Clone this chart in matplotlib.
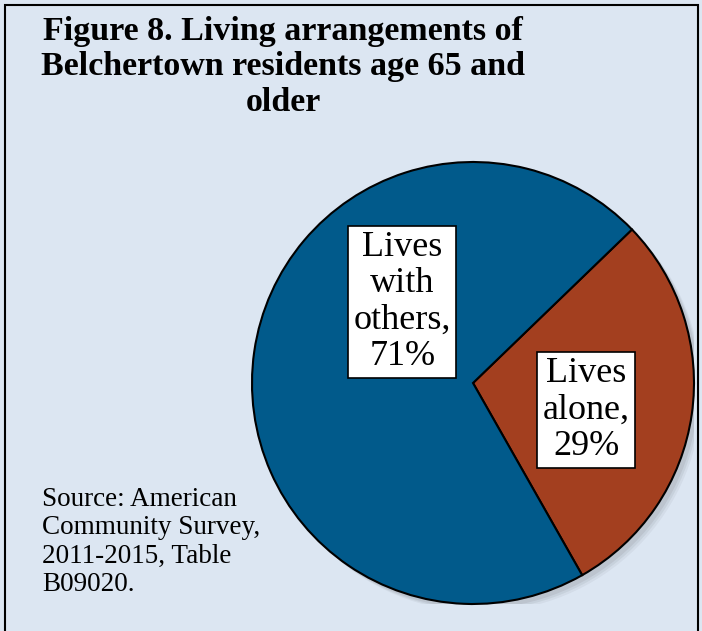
import matplotlib
matplotlib.use('Agg')
import matplotlib.pyplot as plt
from matplotlib.patches import Rectangle, Circle

# living arrangements, residents 65+
labels = ["Lives\nalone,", "Lives\nwith\nothers,"]
shares = [29, 71]
colors = ["#a33f1f", "#015a8b"]

bg = "#dce6f2"
W, H = 702, 631

fig = plt.figure(figsize=(W / 100, H / 100), dpi=100)
fig.patch.set_facecolor(bg)

# frame round the chart area (bottom edge runs off the figure)
fig.patches.append(Rectangle((5 / W, -0.05), 693 / W, 1 - 5 / H + 0.05,
                             transform=fig.transFigure, fill=False,
                             edgecolor="black", linewidth=1.5))

fig.text(283 / W, 1 - 67 / H,
         "Figure 8. Living arrangements of\nBelchertown residents age 65 and\nolder",
         ha="center", va="center", fontsize=24.5, fontweight="bold",
         family="Liberation Serif", linespacing=1.2)

fig.text(42 / W, 1 - 542 / H,
         "Source: American\nCommunity Survey,\n2011-2015, Table\nB09020.",
         ha="left", va="center", fontsize=19.5, family="Liberation Serif",
         linespacing=1.17)

ax = fig.add_axes([252 / W, 27 / H, 442 / W, 442 / H])
ax.set_facecolor(bg)

# soft drop shadow under the pie
for i, a in enumerate([0.06, 0.05, 0.04]):
    ax.add_patch(Circle((0.02 + 0.008 * i, -0.02 - 0.008 * i), 1.0,
                        color="black", alpha=a, lw=0, zorder=0))

wedges, _ = ax.pie(shares, colors=colors, startangle=44, counterclock=False,
                   radius=1.0,
                   wedgeprops=dict(edgecolor="black", linewidth=1.5))
for w in wedges:
    w.set_zorder(2)

label_pos = [(0.512, -0.122), (-0.32, 0.367)]
for lab, v, (x, y) in zip(labels, shares, label_pos):
    ax.text(x, y, f"{lab}\n{v}%", ha="center", va="center", fontsize=26,
            family="Liberation Serif", linespacing=1.13, zorder=5,
            bbox=dict(boxstyle="square,pad=0.15", facecolor="white",
                      edgecolor="black", linewidth=1.2))

ax.set_xlim(-1.0, 1.0)
ax.set_ylim(-1.0, 1.0)
ax.set_aspect("equal")
ax.axis("off")

plt.savefig("out.png", dpi=100, facecolor=bg)
plt.close()
